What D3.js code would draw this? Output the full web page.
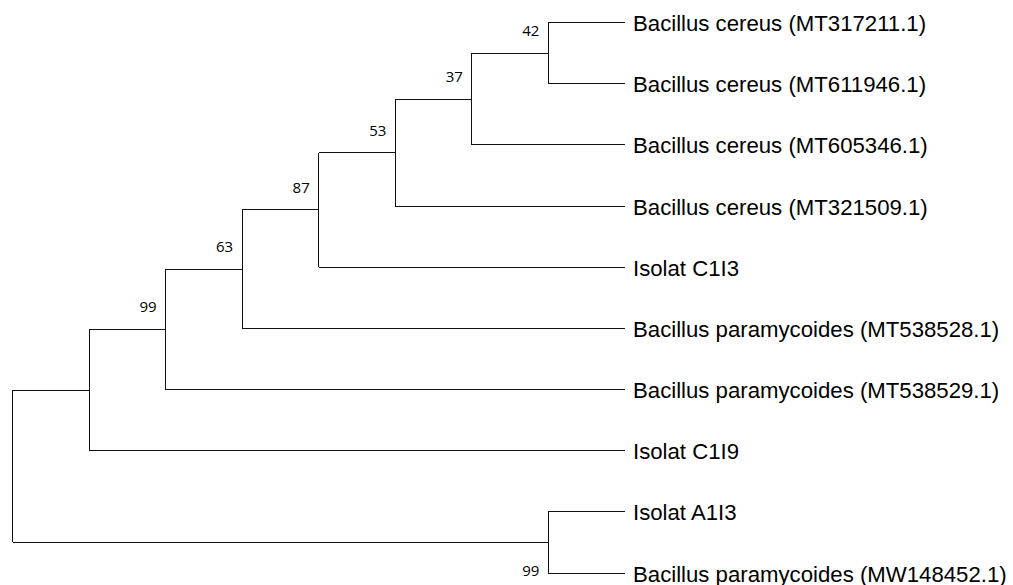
<!DOCTYPE html>
<html>
<head>
<meta charset="utf-8">
<script src="https://cdn.jsdelivr.net/npm/d3@7"></script>
<style>
  html, body { margin: 0; padding: 0; background: #fff; }
  svg { display: block; }
</style>
</head>
<body>
<svg id="chart" width="1013" height="585"></svg>
<script>
// ---- Data ----
const internalIds     = ["root", "n1", "n2", "n3", "n4", "n5", "n6", "n7", "n8"];
const internalParents = ["",     "root", "n1", "n2", "n3", "n4", "n5", "n6", "root"];
const bootstrapValues = [null,   null, 99,   63,   87,   53,   37,   42,   99];

const leafNames = [
  "Bacillus cereus (MT317211.1)",
  "Bacillus cereus (MT611946.1)",
  "Bacillus cereus (MT605346.1)",
  "Bacillus cereus (MT321509.1)",
  "Isolat C1I3",
  "Bacillus paramycoides (MT538528.1)",
  "Bacillus paramycoides (MT538529.1)",
  "Isolat C1I9",
  "Isolat A1I3",
  "Bacillus paramycoides (MW148452.1)"
];
const leafParents = ["n7", "n7", "n6", "n5", "n4", "n3", "n2", "n1", "n8", "n8"];

// ---- Build hierarchy ----
const rows = internalIds.map((id, i) => ({ id, parent: internalParents[i] || null, boot: bootstrapValues[i], leaf: false }))
  .concat(leafNames.map((name, i) => ({ id: name, parent: leafParents[i], boot: null, leaf: true })));

const treeRoot = d3.stratify().id(d => d.id).parentId(d => d.parent)(rows);

d3.cluster().size([1, 1]).separation(() => 1)(treeRoot);

const leaves = treeRoot.leaves();
const yScale = d3.scaleLinear().domain(d3.extent(leaves, d => d.x)).range([22.7, 573]);
const xScale = d3.scaleLinear().domain([0, 1]).range([12.5, 625]);

const svg = d3.select("#chart");
const g = svg.append("g");

// Vertical connectors at each internal node
g.selectAll("line.v")
  .data(treeRoot.descendants().filter(d => d.children))
  .join("line")
  .attr("class", "v")
  .attr("x1", d => xScale(d.y)).attr("x2", d => xScale(d.y))
  .attr("y1", d => yScale(d.children[0].x))
  .attr("y2", d => yScale(d.children[d.children.length - 1].x))
  .attr("stroke", "#111").attr("stroke-width", 1).attr("shape-rendering", "crispEdges");

// Horizontal branches
g.selectAll("line.h")
  .data(treeRoot.descendants().filter(d => d.parent))
  .join("line")
  .attr("class", "h")
  .attr("x1", d => xScale(d.parent.y)).attr("x2", d => xScale(d.y))
  .attr("y1", d => yScale(d.x)).attr("y2", d => yScale(d.x))
  .attr("stroke", "#111").attr("stroke-width", 1).attr("shape-rendering", "crispEdges");

// Leaf labels
g.selectAll("text.leaf")
  .data(leaves)
  .join("text")
  .attr("class", "leaf")
  .attr("x", d => xScale(d.y) + 8)
  .attr("y", d => yScale(d.x) + 8.5)
  .attr("font-family", "'Liberation Sans', Arial, sans-serif")
  .attr("font-size", 22.2)
  .attr("fill", "#000")
  .text(d => d.data.id);

// Bootstrap labels
g.selectAll("text.boot")
  .data(treeRoot.descendants().filter(d => d.data.boot != null))
  .join("text")
  .attr("class", "boot")
  .attr("x", d => xScale(d.y) - 9)
  .attr("y", d => {
    const upper = d.parent && d.parent.children[0] === d;
    return upper ? yScale(d.x) - 17 : yScale(d.x) + 34;
  })
  .attr("text-anchor", "end")
  .attr("font-family", "'Open Sans', 'DejaVu Sans', sans-serif")
  .attr("font-size", 15)
  .attr("fill", "#000")
  .text(d => d.data.boot);
</script>
</body>
</html>
